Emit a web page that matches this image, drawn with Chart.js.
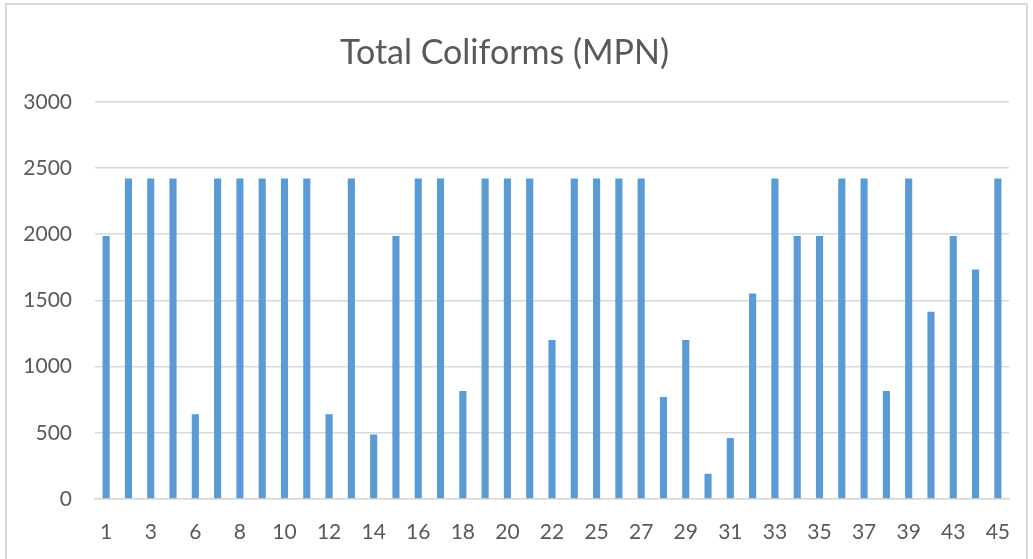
<!DOCTYPE html>
<html>
<head>
<meta charset="utf-8">
<script src="https://cdn.jsdelivr.net/npm/chart.js@4/dist/chart.umd.min.js"></script>
<style>
  html, body { margin: 0; padding: 0; background: #ffffff; }
  #wrap { position: relative; width: 1033px; height: 559px; overflow: hidden; }
  #frame { position: absolute; left: 5px; top: 3px; width: 1023px; height: 570px; border: 2px solid #d9d9d9; box-sizing: border-box; }
  #box { position: absolute; left: 0; top: 0; width: 1033px; height: 559px; }
</style>
</head>
<body>
<div id="wrap">
  <div id="frame"></div>
  <div id="box"><canvas id="c"></canvas></div>
</div>
<script>
const categories = ['1','2','3','4','6','7','8','9','10','11','12','13','14','15','16','17','18','19','20','21','22','23','25','26','27','28','29','30','31','32','33','34','35','36','37','38','39','40','43','44','45'];
const coliforms = [1986,2420,2420,2420,640,2420,2420,2420,2420,2420,640,2420,488,1986,2420,2420,816,2420,2420,2420,1200,2420,2420,2420,2420,770,1200,190,461,1553,2420,1986,1986,2420,2420,816,2420,1414,1986,1733,2420];
const yTicks = [0,500,1000,1500,2000,2500,3000];
const chartTitle = 'Total Coliforms (MPN)';

const FONT = "Lato, 'Open Sans', sans-serif";
const TXT = '#595959';

new Chart(document.getElementById('c'), {
  type: 'bar',
  data: {
    labels: categories,
    datasets: [{
      label: chartTitle,
      data: coliforms,
      backgroundColor: '#5b9bd5',
      borderWidth: 0,
      categoryPercentage: 1.0,
      barPercentage: 0.32
    }]
  },
  options: {
    responsive: true,
    maintainAspectRatio: false,
    animation: false,
    layout: { padding: { left: 0, right: 24, top: 19, bottom: 0 } },
    plugins: {
      legend: { display: false },
      tooltip: { enabled: false },
      title: {
        display: true,
        text: chartTitle,
        color: TXT,
        font: { family: FONT, size: 34, weight: 'normal' },
        padding: { top: 14, bottom: 28 }
      }
    },
    scales: {
      x: {
        afterFit: function(axis) { axis.height = 60; },
        grid: { display: false, drawTicks: false },
        border: { display: true, color: '#d9d9d9', width: 1.5 },
        ticks: {
          color: TXT,
          font: { family: FONT, size: 21 },
          padding: 21,
          autoSkip: false,
          maxRotation: 0,
          minRotation: 0,
          callback: function(v, i) { return i % 2 === 0 ? categories[i] : ''; }
        }
      },
      y: {
        min: 0,
        max: 3000,
        afterBuildTicks: function(axis) { axis.ticks = yTicks.map(v => ({ value: v })); },
        afterFit: function(axis) { axis.width = 95; },
        grid: { color: '#d9d9d9', lineWidth: 1.5, drawTicks: false },
        border: { display: false },
        ticks: {
          color: TXT,
          font: { family: FONT, size: 21 },
          padding: 23,
          callback: function(v) { return String(v); }
        }
      }
    }
  }
});
</script>
</body>
</html>
